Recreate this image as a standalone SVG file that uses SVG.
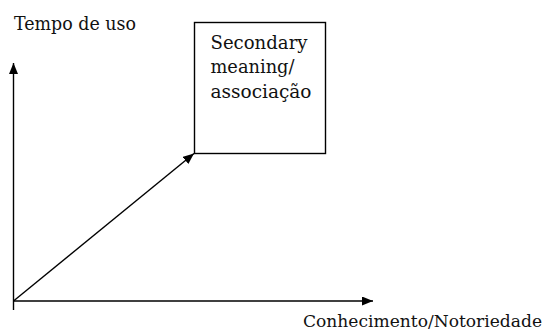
<svg xmlns="http://www.w3.org/2000/svg" width="546" height="334" viewBox="0 0 546 334">
<defs>
<style>
text{font-family:"DejaVu Serif","Liberation Serif",serif;font-size:18.5px;fill:#111}
.ln{stroke:#000;stroke-width:1.4;fill:none}
</style>
<marker id="ah" markerUnits="userSpaceOnUse" viewBox="0 0 11 9" refX="11" refY="4.5" markerWidth="11" markerHeight="9" orient="auto">
<path d="M0,0 L11,4.5 L0,9 Z" fill="#000"/>
</marker>
</defs>
<rect width="546" height="334" fill="#fff"/>
<g id="connectors">
<line class="ln" x1="13.5" y1="310" x2="13.5" y2="63" marker-end="url(#ah)"/>
<line class="ln" x1="13.5" y1="301" x2="373" y2="301" marker-end="url(#ah)"/>
<line class="ln" x1="13.5" y1="301" x2="194" y2="153.5" marker-end="url(#ah)"/>
</g>
<g id="label-y">
<text x="14" y="30" textLength="122" lengthAdjust="spacingAndGlyphs">Tempo de uso</text>
</g>
<g id="box">
<rect x="194.5" y="22.5" width="131" height="131" fill="#fff" stroke="#000" stroke-width="1.4"/>
<text x="210.5" y="48.5" textLength="97" lengthAdjust="spacingAndGlyphs">Secondary</text>
<text x="210.5" y="73" textLength="84" lengthAdjust="spacingAndGlyphs">meaning/</text>
<text x="210.5" y="97.5" textLength="101" lengthAdjust="spacingAndGlyphs">associação</text>
</g>
<g id="label-x">
<text x="303" y="327" style="font-size:16px" textLength="239" lengthAdjust="spacingAndGlyphs">Conhecimento/Notoriedade</text>
</g>
</svg>
